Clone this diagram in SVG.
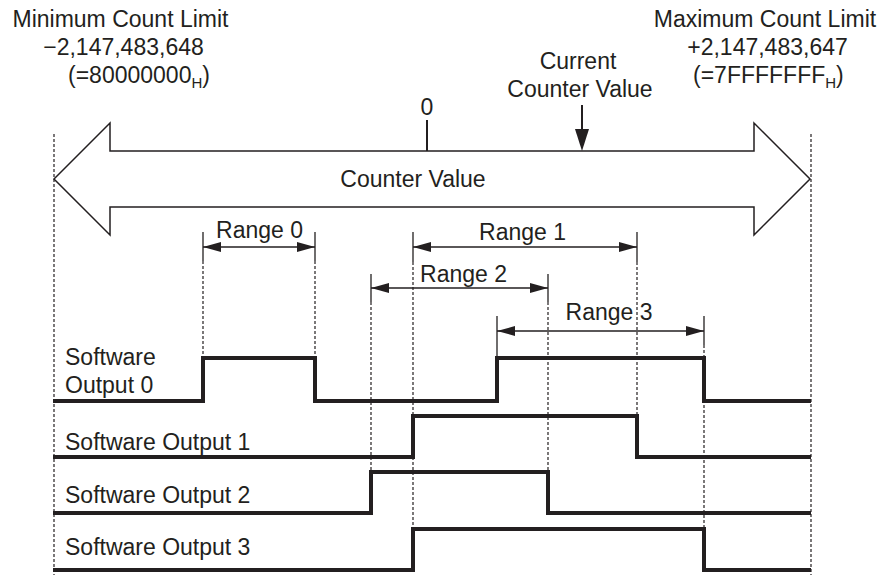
<svg xmlns="http://www.w3.org/2000/svg" width="889" height="575" viewBox="0 0 889 575">
<style>
text{font-family:"Liberation Sans",Arial,sans-serif;font-size:23px;fill:#231f20}
.c{text-anchor:middle}
.sub{font-size:15px}
.dash{stroke:#231f20;stroke-width:1.2;stroke-dasharray:3 2;fill:none}
.tick{stroke:#231f20;stroke-width:1.3;fill:none}
.rng{stroke:#231f20;stroke-width:1.3;fill:none;marker-start:url(#ah);marker-end:url(#ah)}
.wave{stroke:#231f20;stroke-width:4;fill:none;stroke-linejoin:miter}
</style>
<defs>
<marker id="ah" viewBox="0 0 18 10" refX="18" refY="5" markerWidth="18" markerHeight="10" markerUnits="userSpaceOnUse" orient="auto-start-reverse">
<path d="M0,0 L18,5 L0,10 Z" fill="#231f20"/>
</marker>
</defs>
<rect width="889" height="575" fill="#ffffff"/>

<g id="guides">
<line class="dash" x1="54" y1="134" x2="54" y2="575"/>
<line class="dash" x1="811" y1="134" x2="811" y2="575"/>
<line class="dash" x1="203" y1="261" x2="203" y2="358"/>
<line class="dash" x1="315" y1="261" x2="315" y2="358"/>
<line class="dash" x1="413" y1="262" x2="413" y2="529"/>
<line class="dash" x1="637" y1="262" x2="637" y2="416"/>
<line class="dash" x1="371" y1="302" x2="371" y2="472"/>
<line class="dash" x1="548" y1="302" x2="548" y2="472"/>
<line class="dash" x1="704" y1="345" x2="704" y2="529"/>
</g>

<g id="counter-arrow">
<path d="M54,179 L110,123 L110,151 L754,151 L754,123 L810,179 L754,235 L754,207 L110,207 L110,235 Z" fill="#ffffff" stroke="#231f20" stroke-width="1.5" stroke-linejoin="miter"/>
<text class="c" x="413" y="187">Counter Value</text>
</g>

<g id="min-limit">
<text class="c" x="120.5" y="27">Minimum Count Limit</text>
<text class="c" x="123.5" y="55">−2,147,483,648</text>
<text x="68" y="83">(=80000000<tspan class="sub" dy="5">H</tspan><tspan dy="-5">)</tspan></text>
</g>

<g id="max-limit">
<text class="c" x="765" y="27">Maximum Count Limit</text>
<text class="c" x="767.5" y="55">+2,147,483,647</text>
<text x="693" y="83">(=7FFFFFFF<tspan class="sub" dy="5">H</tspan><tspan dy="-5">)</tspan></text>
</g>

<g id="zero-mark">
<text class="c" x="427" y="115">0</text>
<line x1="427" y1="120" x2="427" y2="151" stroke="#231f20" stroke-width="2"/>
</g>

<g id="current-value">
<text class="c" x="578" y="69">Current</text>
<text class="c" x="580" y="97">Counter Value</text>
<line x1="582" y1="105" x2="582" y2="131" stroke="#231f20" stroke-width="2"/>
<polygon points="575,129 589,129 582,151" fill="#231f20"/>
</g>

<g id="range0">
<line class="tick" x1="203" y1="232" x2="203" y2="261"/>
<line class="tick" x1="315" y1="232" x2="315" y2="261"/>
<line class="rng" x1="203" y1="247" x2="315" y2="247"/>
<text class="c" x="259.5" y="238">Range 0</text>
</g>

<g id="range1">
<line class="tick" x1="413" y1="232" x2="413" y2="262"/>
<line class="tick" x1="637" y1="232" x2="637" y2="262"/>
<line class="rng" x1="413" y1="247" x2="637" y2="247"/>
<text class="c" x="522.5" y="240">Range 1</text>
</g>

<g id="range2">
<line class="tick" x1="371" y1="274" x2="371" y2="302"/>
<line class="tick" x1="548" y1="274" x2="548" y2="302"/>
<line class="rng" x1="371" y1="288" x2="548" y2="288"/>
<text class="c" x="463.5" y="282">Range 2</text>
</g>

<g id="range3">
<line class="tick" x1="497" y1="316" x2="497" y2="358"/>
<line class="tick" x1="704" y1="316" x2="704" y2="345"/>
<line class="rng" x1="497" y1="331" x2="704" y2="331"/>
<text class="c" x="609" y="320">Range 3</text>
</g>

<g id="output0">
<path class="wave" d="M53,401 H203 V358 H315 V401 H497 V358 H704 V401 H811"/>
<text x="65" y="365">Software</text>
<text x="65" y="393">Output 0</text>
</g>

<g id="output1">
<path class="wave" d="M53,457 H413 V416 H637 V457 H811"/>
<text x="65" y="450">Software Output 1</text>
</g>

<g id="output2">
<path class="wave" d="M53,513 H371 V472 H548 V513 H811"/>
<text x="65" y="503">Software Output 2</text>
</g>

<g id="output3">
<path class="wave" d="M53,570 H413 V529 H704 V570 H811"/>
<text x="65" y="555">Software Output 3</text>
</g>
</svg>
